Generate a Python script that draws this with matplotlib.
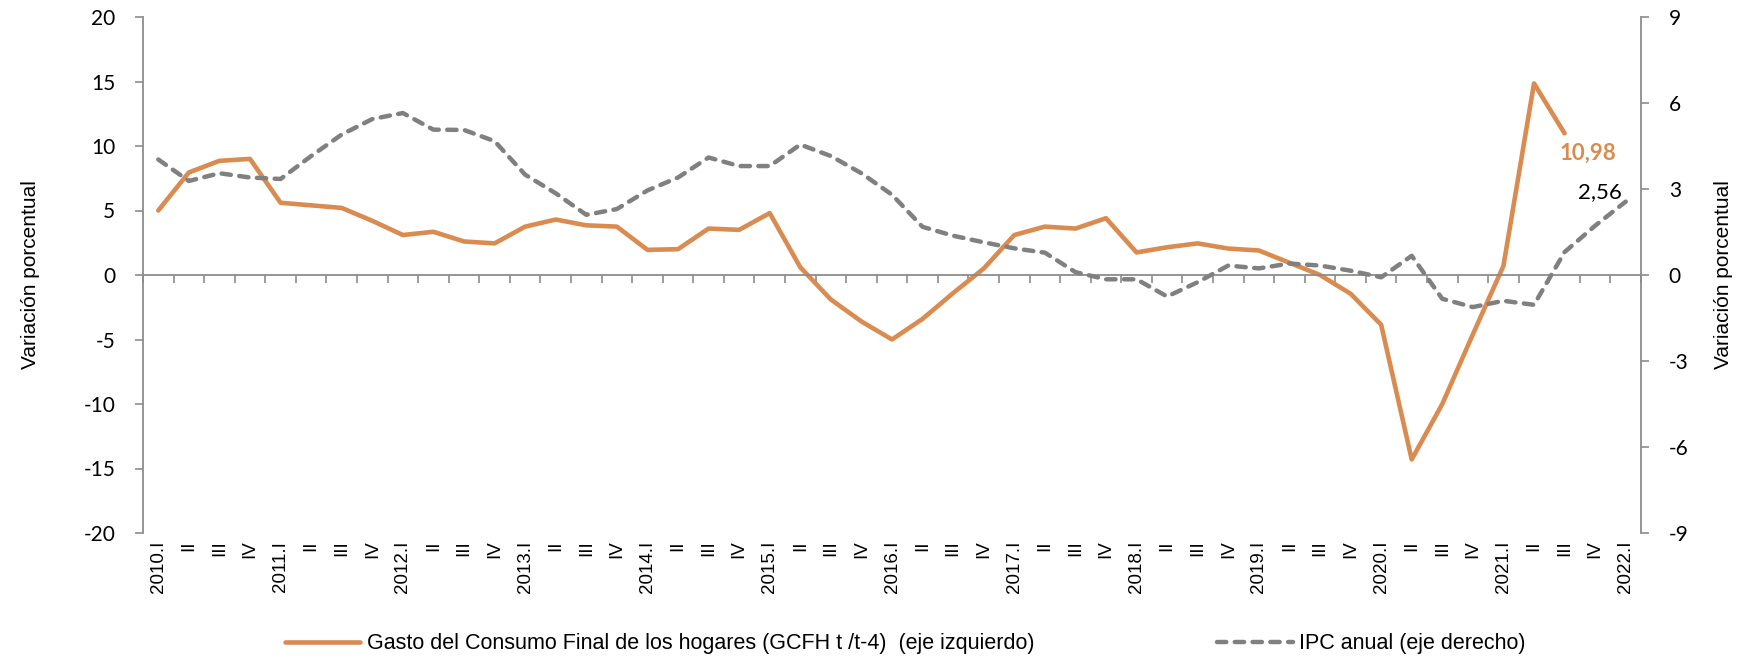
import matplotlib
matplotlib.use("Agg")
import matplotlib.pyplot as plt
import matplotlib.transforms as mtransforms

# Trimestres 2010.I - 2022.I
years = list(range(2010, 2023))
quarter_names = ["I", "II", "III", "IV"]
categories = []
for y in years:
    for q in quarter_names:
        categories.append(f"{y}.I" if q == "I" else q)
categories = categories[:49]

# GCFH t/t-4 (eje izquierdo), hasta 2021.III
gcfh = [5.0, 7.95, 8.85, 9.0, 5.6, 5.4, 5.2, 4.2, 3.1, 3.35, 2.6, 2.45,
        3.75, 4.3, 3.85, 3.75, 1.95, 2.0, 3.6, 3.5, 4.8, 0.6, -1.9, -3.6,
        -5.0, -3.4, -1.4, 0.5, 3.1, 3.75, 3.6, 4.4, 1.75, 2.15, 2.45, 2.05,
        1.9, 0.95, 0.0, -1.45, -3.85, -14.3, -10.0, -4.6, 0.7, 14.85, 10.98]

# IPC anual (eje derecho), hasta 2022.I
ipc = [4.03, 3.28, 3.55, 3.4, 3.35, 4.15, 4.9, 5.44, 5.65, 5.07, 5.06, 4.67,
       3.5, 2.85, 2.1, 2.3, 2.95, 3.4, 4.1, 3.8, 3.8, 4.55, 4.15, 3.55,
       2.8, 1.68, 1.37, 1.14, 0.93, 0.78, 0.1, -0.15, -0.15, -0.75, -0.25, 0.33,
       0.23, 0.4, 0.33, 0.15, -0.08, 0.67, -0.83, -1.12, -0.9, -1.04, 0.8, 1.72,
       2.56]

left_ticks = [-20, -15, -10, -5, 0, 5, 10, 15, 20]
right_ticks = [-9, -6, -3, 0, 3, 6, 9]

orange = "#D98B50"
gray = "#808080"
spine_col = "#8C8C8C"
num_font = "Lato"
txt_font = "Liberation Sans"
narrow_font = ["Liberation Sans Narrow", "Liberation Sans"]

fig = plt.figure(figsize=(17.41, 6.61), dpi=100)
ax = fig.add_axes([143 / 1741, 1 - 533 / 661, (1641 - 143) / 1741, (533 - 17) / 661])
ax2 = ax.twinx()

x = list(range(len(categories)))

ax.plot(x[:len(gcfh)], gcfh, color=orange, lw=3.3, solid_capstyle="round",
        solid_joinstyle="round", label="Gasto del Consumo Final de los hogares (GCFH t /t-4)  (eje izquierdo)")
ax2.plot(x[:len(ipc)], ipc, color=gray, lw=3.2, dashes=(2.1, 1.9),
         dash_capstyle="round", label="IPC anual (eje derecho)")

ax.set_xlim(-0.5, len(categories) - 0.5)
ax.set_ylim(-20, 20)
ax2.set_ylim(-9, 9)
ax.set_yticks(left_ticks)
ax2.set_yticks(right_ticks)
ax.set_yticklabels([str(v) for v in left_ticks], fontsize=15, family=num_font)
ax2.set_yticklabels([str(v) for v in right_ticks], fontsize=15, family=num_font)

# eje x en el cero, marcas en los limites de cada trimestre
ax.spines["bottom"].set_position(("data", 0))
ax.set_xticks([i - 0.5 for i in range(len(categories) + 1)])
ax.set_xticklabels([])
ax.tick_params(axis="x", length=6, width=1.2, color=spine_col, direction="out")
ax.tick_params(axis="y", length=6, width=1.2, color=spine_col, pad=14)
ax2.tick_params(axis="y", length=6, width=1.2, color=spine_col, pad=14)

for sp in ["top", "right"]:
    ax.spines[sp].set_visible(False)
for sp in ["top", "bottom", "left"]:
    ax2.spines[sp].set_visible(False)
for s in [ax.spines["left"], ax.spines["bottom"], ax2.spines["right"]]:
    s.set_color(spine_col)
    s.set_linewidth(1.3)

trans = mtransforms.blended_transform_factory(ax.transData, ax.transAxes)
for i, lab in enumerate(categories):
    ax.text(i, -0.015, lab, transform=trans, rotation=90, ha="center", va="top",
            fontsize=13.5, family=txt_font)

ax.set_ylabel("Variación porcentual", fontsize=15, family=txt_font, labelpad=31)
ax2.set_ylabel("Variación porcentual", fontsize=15, family=txt_font, rotation=90, labelpad=18)

# etiquetas de los ultimos valores
ax.annotate(f"{gcfh[-1]:.2f}".replace(".", ","), xy=(len(gcfh) - 1, gcfh[-1]),
            xytext=(-5, -20), textcoords="offset pixels", ha="left", va="center",
            fontsize=16, fontweight="bold", color=orange, family=num_font)
ax2.annotate(f"{ipc[-1]:.2f}".replace(".", ","), xy=(len(ipc) - 1, ipc[-1]),
             xytext=(-26, 10), textcoords="offset pixels", ha="center", va="center",
             fontsize=16, color="black", family=num_font)

h1, l1 = ax.get_legend_handles_labels()
h2, l2 = ax2.get_legend_handles_labels()
fig.legend(h1 + h2, l1 + l2, loc="center", bbox_to_anchor=(0.52, 0.026), ncol=2,
           frameon=False, prop={"family": narrow_font, "size": 15.5},
           handlelength=3.5, columnspacing=8.5, handletextpad=0.3)

fig.savefig("out.png", dpi=100)
